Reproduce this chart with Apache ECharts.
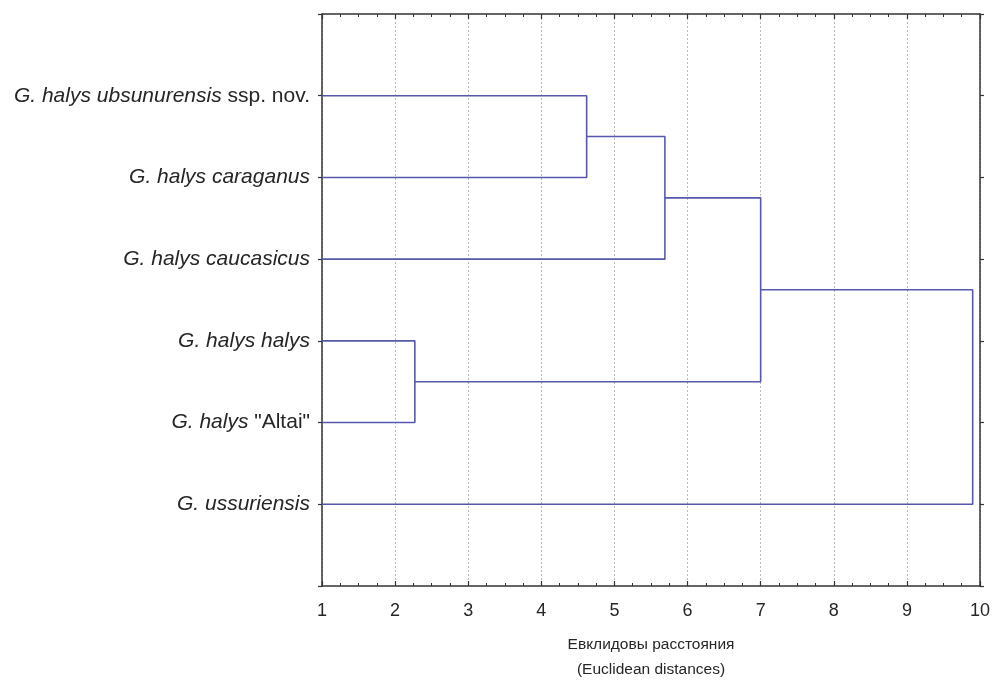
<!DOCTYPE html>
<html>
<head>
<meta charset="utf-8">
<script src="https://cdn.jsdelivr.net/npm/echarts@6/dist/echarts.min.js"></script>
<style>
  html, body { margin: 0; padding: 0; background: #fff; }
  #chart { width: 994px; height: 681px; }
</style>
</head>
<body>
<div id="chart"></div>
<script>
// Leaves, top to bottom; each label split into [text, italic?] pieces
const leafLabels = [
  [['G. halys ubsunurensis', true], [' ssp. nov.', false]],
  [['G. halys caraganus', true]],
  [['G. halys caucasicus', true]],
  [['G. halys halys', true]],
  [['G. halys', true], [' "Altai"', false]],
  [['G. ussuriensis', true]]
];

// Linkage steps: [childA, childB, distance]; ids >= 6 refer to earlier merges
const mergeA = [0, 6, 3, 7, 9];
const mergeB = [1, 2, 4, 8, 5];
const mergeDist = [4.62, 5.69, 2.27, 7.0, 9.9];

const xTicks = [1, 2, 3, 4, 5, 6, 7, 8, 9, 10];
const axisTitle = ['Евклидовы расстояния', '(Euclidean distances)'];

const nLeaves = leafLabels.length;
const nodeX = [];
const nodeY = [];
for (let i = 0; i < nLeaves; i++) { nodeX.push(xTicks[0]); nodeY.push(i + 1); }

const LINE = '#5659ab';
const series = [];
for (let k = 0; k < mergeDist.length; k++) {
  const a = mergeA[k], b = mergeB[k], d = mergeDist[k];
  series.push({
    type: 'line',
    data: [[nodeX[a], nodeY[a]], [d, nodeY[a]], [d, nodeY[b]], [nodeX[b], nodeY[b]]],
    symbol: 'none',
    silent: true,
    lineStyle: { color: LINE, width: 1.6 },
    xAxisIndex: 0, yAxisIndex: 0
  });
  nodeX.push(d);
  nodeY.push((nodeY[a] + nodeY[b]) / 2);
}

// rich-text styles for the leaf names
const rich = {
  n: { fontFamily: 'Liberation Sans', fontSize: 21, color: '#262626' },
  i: { fontFamily: 'Liberation Sans', fontSize: 21, fontStyle: 'italic', color: '#262626' }
};
function leafFormatter(v) {
  const idx = Math.round(v) - 1;
  if (idx < 0 || idx >= nLeaves) return '';
  return leafLabels[idx].map(p => '{' + (p[1] ? 'i' : 'n') + '|' + p[0] + '}').join('');
}

const boxLine = { show: true, onZero: false, lineStyle: { color: '#333', width: 1.5 } };

const chart = echarts.init(document.getElementById('chart'), null, { renderer: 'canvas' });
chart.setOption({
  animation: false,
  backgroundColor: '#fff',
  grid: { left: 322, right: 14, top: 14, bottom: 95, containLabel: false, outerBoundsMode: 'none' },
  xAxis: [
    {
      type: 'value', position: 'bottom', min: 1, max: 10, interval: 1,
      axisLine: boxLine,
      axisTick: { show: true, inside: true, length: 5, lineStyle: { color: '#333', width: 1.2 } },
      minorTick: { show: true, splitNumber: 4, length: 3, lineStyle: { color: '#333', width: 1 } },
      splitLine: { show: true, lineStyle: { color: '#b8b8b8', type: [2, 2], width: 1 } },
      axisLabel: { fontFamily: 'Liberation Sans', fontSize: 18, color: '#262626', margin: 16 },
      name: axisTitle.join('\n'),
      nameLocation: 'middle',
      nameGap: 46,
      nameTextStyle: { fontFamily: 'Liberation Sans', fontSize: 15.5, color: '#262626', lineHeight: 25 }
    },
    {
      type: 'value', position: 'top', min: 1, max: 10, interval: 1,
      axisLine: boxLine,
      axisTick: { show: true, inside: true, length: 5, lineStyle: { color: '#333', width: 1.2 } },
      minorTick: { show: true, splitNumber: 4, length: 3, lineStyle: { color: '#333', width: 1 } },
      splitLine: { show: false },
      axisLabel: { show: false }
    }
  ],
  yAxis: [
    {
      type: 'value', position: 'left', inverse: true, min: 0, max: 7, interval: 1,
      axisLine: boxLine,
      axisTick: { show: true, length: 4, lineStyle: { color: '#333', width: 1.2 } },
      splitLine: { show: false },
      axisLabel: { formatter: leafFormatter, rich: rich, margin: 12 }
    },
    {
      type: 'value', position: 'right', inverse: true, min: 0, max: 7, interval: 1,
      axisLine: boxLine,
      axisTick: { show: true, length: 4, lineStyle: { color: '#333', width: 1.2 } },
      splitLine: { show: false },
      axisLabel: { show: false }
    }
  ],
  series: series
});
</script>
</body>
</html>
